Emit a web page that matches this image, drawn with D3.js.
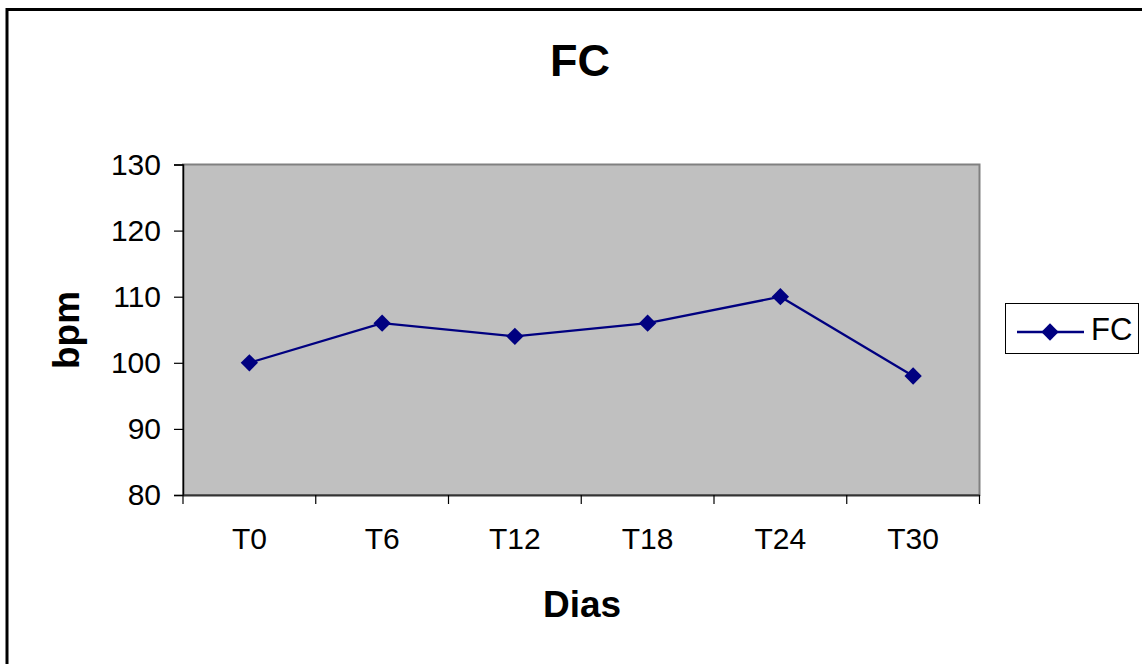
<!DOCTYPE html>
<html>
<head>
<meta charset="utf-8">
<script src="https://cdn.jsdelivr.net/npm/d3@7"></script>
<style>
  html, body { margin: 0; padding: 0; background: #fff; }
  svg { display: block; font-family: "Liberation Sans", Arial, sans-serif; }
</style>
</head>
<body>
<svg id="chart" width="1142" height="664"></svg>
<script>
// Heart rate (FC) across the sampling days
const categories = ["T0", "T6", "T12", "T18", "T24", "T30"];
const fcValues = [100, 106, 104, 106, 110, 98];
const yTicks = [80, 90, 100, 110, 120, 130];
const seriesName = "FC";

const svg = d3.select("#chart");
const W = 1142, H = 664;
const plot = { left: 183, top: 164.5, right: 979.5, bottom: 495 };
const tickFont = 30;
const markerSize = 150;

// Outer frame (runs off the right and bottom of the canvas)
svg.append("rect")
  .attr("x", 7).attr("y", 9.5)
  .attr("width", W + 20).attr("height", H + 20)
  .attr("fill", "#fff").attr("stroke", "#000").attr("stroke-width", 3);

const x = d3.scaleBand().domain(categories).range([plot.left, plot.right]).padding(0);
const y = d3.scaleLinear().domain([80, 130]).range([plot.bottom, plot.top]);

// Plot area
svg.append("rect")
  .attr("x", plot.left).attr("y", plot.top)
  .attr("width", plot.right - plot.left).attr("height", plot.bottom - plot.top)
  .attr("fill", "#c0c0c0").attr("stroke", "#808080").attr("stroke-width", 2);

// Y axis
const yAxis = svg.append("g")
  .attr("transform", `translate(${plot.left},0)`)
  .call(d3.axisLeft(y).tickValues(yTicks).tickSize(9).tickPadding(13));
yAxis.select(".domain").attr("stroke", "#000").attr("stroke-width", 1.5);
yAxis.selectAll(".tick line").attr("stroke", "#000").attr("stroke-width", 1.2);
yAxis.selectAll(".tick text")
  .attr("font-size", tickFont).attr("fill", "#000")
  .attr("font-family", "Liberation Sans, Arial, sans-serif");

// X axis with ticks at category boundaries
const xAxis = svg.append("g")
  .attr("transform", `translate(0,${plot.bottom})`)
  .call(d3.axisBottom(x).tickSize(0).tickPadding(33));
xAxis.select(".domain").attr("stroke", "#333").attr("stroke-width", 2);
xAxis.selectAll(".tick text")
  .attr("font-size", tickFont).attr("fill", "#000")
  .attr("font-family", "Liberation Sans, Arial, sans-serif");
const bounds = categories.map(c => x(c)).concat([x(categories[categories.length - 1]) + x.bandwidth()]);
svg.append("g").selectAll("line").data(bounds).join("line")
  .attr("x1", d => d).attr("x2", d => d)
  .attr("y1", plot.bottom).attr("y2", plot.bottom + 9)
  .attr("stroke", "#000").attr("stroke-width", 1.2);

// Series line and diamond markers
const cx = c => x(c) + x.bandwidth() / 2;
const pts = categories.map((c, i) => [cx(c), y(fcValues[i])]);
svg.append("path")
  .attr("d", d3.line()(pts))
  .attr("fill", "none").attr("stroke", "#000080").attr("stroke-width", 2.3);

svg.append("g").selectAll("path").data(pts).join("path")
  .attr("transform", d => `translate(${d[0]},${d[1]}) rotate(45)`)
  .attr("d", d3.symbol().type(d3.symbolSquare).size(markerSize))
  .attr("fill", "#000080");

// Titles
svg.append("text")
  .attr("x", 580).attr("y", 76)
  .attr("text-anchor", "middle")
  .attr("font-size", 45).attr("font-weight", "bold")
  .text("FC");

svg.append("text")
  .attr("x", 582).attr("y", 617)
  .attr("text-anchor", "middle")
  .attr("font-size", 37).attr("font-weight", "bold")
  .text("Dias");

svg.append("text")
  .attr("transform", "translate(79,330) rotate(-90)")
  .attr("text-anchor", "middle")
  .attr("font-size", 37).attr("font-weight", "bold")
  .text("bpm");

// Legend
const lg = svg.append("g");
lg.append("rect")
  .attr("x", 1005.5).attr("y", 303.5).attr("width", 133).attr("height", 50)
  .attr("fill", "#fff").attr("stroke", "#000").attr("stroke-width", 1);
lg.append("line")
  .attr("x1", 1017).attr("x2", 1084).attr("y1", 332).attr("y2", 332)
  .attr("stroke", "#000080").attr("stroke-width", 2.3);
lg.append("path")
  .attr("transform", "translate(1050,332) rotate(45)")
  .attr("d", d3.symbol().type(d3.symbolSquare).size(markerSize))
  .attr("fill", "#000080");
lg.append("text")
  .attr("x", 1091).attr("y", 340)
  .attr("font-size", 31)
  .text(seriesName);
</script>
</body>
</html>
